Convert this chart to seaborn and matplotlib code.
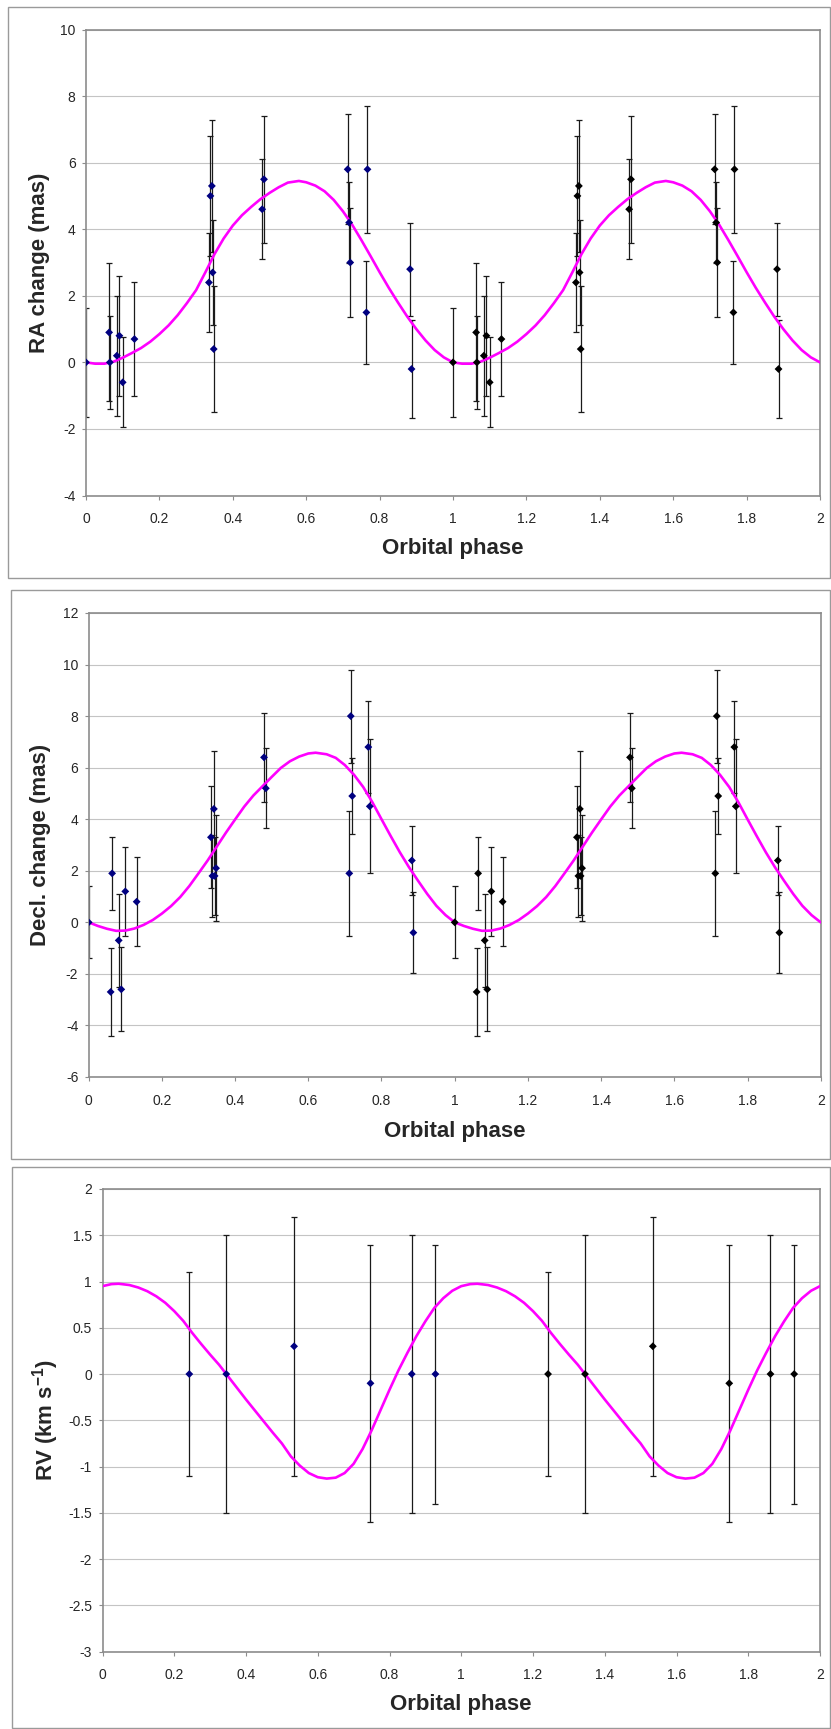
import matplotlib
matplotlib.use("Agg")
import matplotlib.pyplot as plt
import numpy as np
import pandas as pd
import seaborn as sns
from matplotlib.patches import Rectangle
from matplotlib.ticker import MultipleLocator, FuncFormatter

# ---------------- data ----------------
# RA change (mas) vs orbital phase (one cycle; chart repeats it at phase+1)
ra_phase = [0.000, 0.063, 0.065, 0.084, 0.091, 0.100, 0.132, 0.335, 0.339, 0.343,
            0.345, 0.348, 0.480, 0.485, 0.713, 0.717, 0.720, 0.764, 0.767, 0.883, 0.887]
ra_value = [0.0, 0.9, 0.0, 0.2, 0.8, -0.6, 0.7, 2.4, 5.0, 5.3,
            2.7, 0.4, 4.6, 5.5, 5.8, 4.2, 3.0, 1.5, 5.8, 2.8, -0.2]
ra_err = [1.64, 2.07, 1.40, 1.80, 1.80, 1.35, 1.72, 1.50, 1.80, 1.98,
          1.57, 1.88, 1.50, 1.90, 1.65, 1.22, 1.63, 1.55, 1.90, 1.40, 1.48]

# Decl. change (mas)
dec_phase = [0.000, 0.060, 0.064, 0.082, 0.089, 0.100, 0.131, 0.334, 0.338, 0.342,
             0.344, 0.348, 0.479, 0.484, 0.712, 0.716, 0.720, 0.764, 0.768, 0.883, 0.887]
dec_value = [0.0, -2.7, 1.9, -0.7, -2.6, 1.2, 0.8, 3.3, 1.8, 4.4,
             1.8, 2.1, 6.4, 5.2, 1.9, 8.0, 4.9, 6.8, 4.5, 2.4, -0.4]
dec_err = [1.40, 1.72, 1.42, 1.80, 1.63, 1.72, 1.72, 1.97, 1.60, 2.25,
           1.50, 2.05, 1.72, 1.55, 2.42, 1.80, 1.48, 1.80, 2.60, 1.35, 1.57]

# RV (km/s)
rv_phase = [0.242, 0.345, 0.534, 0.747, 0.862, 0.928]
rv_value = [0.0, 0.0, 0.3, -0.1, 0.0, 0.0]
rv_err = [1.1, 1.5, 1.4, 1.5, 1.5, 1.4]

# model curves (one cycle)
ra_curve_phase = [0.0, 0.025, 0.05, 0.075, 0.1, 0.125, 0.15, 0.175, 0.2, 0.225, 0.25,
                  0.275, 0.3, 0.325, 0.35, 0.375, 0.4, 0.425, 0.45, 0.475, 0.5, 0.525,
                  0.55, 0.58, 0.6, 0.625, 0.65, 0.675, 0.7, 0.725, 0.75, 0.775, 0.8,
                  0.825, 0.85, 0.875, 0.9, 0.925, 0.95, 0.975, 1.0]
ra_curve = [0.0, -0.04, -0.04, 0.02, 0.14, 0.28, 0.43, 0.62, 0.85, 1.11, 1.42,
            1.78, 2.17, 2.70, 3.25, 3.72, 4.11, 4.42, 4.67, 4.90, 5.09, 5.26,
            5.40, 5.45, 5.41, 5.31, 5.14, 4.88, 4.54, 4.14, 3.68, 3.20, 2.71,
            2.24, 1.80, 1.38, 1.00, 0.66, 0.37, 0.15, 0.0]

dec_curve_phase = [0.0, 0.025, 0.05, 0.075, 0.1, 0.125, 0.15, 0.175, 0.2, 0.225, 0.25,
                   0.275, 0.3, 0.325, 0.35, 0.375, 0.4, 0.425, 0.45, 0.475, 0.5, 0.525,
                   0.55, 0.575, 0.6, 0.62, 0.65, 0.675, 0.7, 0.725, 0.75, 0.775, 0.8,
                   0.825, 0.85, 0.875, 0.9, 0.925, 0.95, 0.975, 1.0]
dec_curve = [0.0, -0.14, -0.25, -0.33, -0.32, -0.24, -0.10, 0.09, 0.34, 0.63, 0.98,
             1.41, 1.90, 2.40, 2.94, 3.48, 3.99, 4.49, 4.92, 5.28, 5.64, 5.99,
             6.25, 6.43, 6.55, 6.58, 6.52, 6.38, 6.10, 5.72, 5.25, 4.66, 4.00,
             3.35, 2.72, 2.14, 1.61, 1.10, 0.64, 0.28, 0.0]

rv_curve_phase = [0.0, 0.025, 0.045, 0.075, 0.1, 0.125, 0.15, 0.175, 0.2, 0.225, 0.25,
                  0.275, 0.3, 0.325, 0.35, 0.375, 0.4, 0.425, 0.45, 0.475, 0.5, 0.525,
                  0.55, 0.575, 0.6, 0.625, 0.65, 0.675, 0.7, 0.725, 0.75, 0.775, 0.8,
                  0.825, 0.85, 0.875, 0.9, 0.925, 0.95, 0.975, 1.0]
rv_curve = [0.95, 0.972, 0.976, 0.962, 0.935, 0.895, 0.84, 0.77, 0.68, 0.575, 0.445,
            0.325, 0.21, 0.10, -0.025, -0.15, -0.275, -0.395, -0.515, -0.635, -0.75, -0.89,
            -0.99, -1.07, -1.115, -1.13, -1.12, -1.07, -0.97, -0.81, -0.61, -0.39, -0.17,
            0.04, 0.23, 0.41, 0.57, 0.715, 0.82, 0.90, 0.95]

x_ticks = [0, 0.2, 0.4, 0.6, 0.8, 1, 1.2, 1.4, 1.6, 1.8, 2]

# ---------------- style ----------------
sns.set_style("white")
plt.rcParams["font.family"] = ["Liberation Sans", "DejaVu Sans"]
plt.rcParams["axes.unicode_minus"] = False
plt.rcParams["mathtext.fontset"] = "custom"
plt.rcParams["mathtext.rm"] = "Liberation Sans"
plt.rcParams["mathtext.bf"] = "Liberation Sans:bold"

W, H = 831, 1729
fig = plt.figure(figsize=(W / 100, H / 100), dpi=100)


def frac(l, t, r, b):
    return [l / W, 1 - b / H, (r - l) / W, (b - t) / H]


# outer chart frames
frames = [(8, 7.5, 830, 578), (10.5, 590, 830, 1158.5), (11.7, 1166.5, 830, 1728)]
for (l, t, r, b) in frames:
    fig.patches.append(Rectangle((l / W, 1 - b / H), (r - l) / W, (b - t) / H,
                                 transform=fig.transFigure, fill=False,
                                 edgecolor="#9a9a9a", linewidth=1.0))

panels = [
    dict(rect=(86, 29.5, 820, 495.5), phase=ra_phase, value=ra_value, err=ra_err,
         cph=ra_curve_phase, cval=ra_curve, ylim=(-4, 10), ystep=2,
         ylabel="RA change (mas)", ylx=-0.064, xly=-0.1127),
    dict(rect=(88.7, 613, 820.7, 1077), phase=dec_phase, value=dec_value, err=dec_err,
         cph=dec_curve_phase, cval=dec_curve, ylim=(-6, 12), ystep=2,
         ylabel="Decl. change (mas)", ylx=-0.066, xly=-0.1164),
    dict(rect=(102.5, 1189, 820, 1651.6), phase=rv_phase, value=rv_value, err=rv_err,
         cph=rv_curve_phase, cval=rv_curve, ylim=(-3, 2), ystep=0.5,
         ylabel=r"RV (km s$^{\mathbf{-1}}$)", ylx=-0.079, xly=-0.1133),
]

fmt = FuncFormatter(lambda v, p: f"{round(v, 3):g}" if abs(v) > 1e-9 else "0")

for p in panels:
    ax = fig.add_axes(frac(*p["rect"]))
    n = len(p["phase"])
    pts = pd.DataFrame({
        "phase": list(p["phase"]) + [x + 1 for x in p["phase"]],
        "value": list(p["value"]) * 2,
        "err": list(p["err"]) * 2,
        "cycle": ["first"] * n + ["second"] * n,
    })
    curve = pd.DataFrame({
        "phase": list(p["cph"]) + [x + 1 for x in p["cph"][1:]],
        "value": list(p["cval"]) + list(p["cval"][1:]),
    })

    ax.errorbar(pts["phase"], pts["value"], yerr=pts["err"], fmt="none",
                ecolor="#1a1a1a", elinewidth=0.9, capsize=2.3, capthick=0.9, zorder=2)
    sns.lineplot(data=curve, x="phase", y="value", sort=False, estimator=None,
                 color="#ff00ff", linewidth=1.9, ax=ax, zorder=3)
    sns.scatterplot(data=pts, x="phase", y="value", hue="cycle",
                    palette={"first": "#000080", "second": "#000000"},
                    marker="D", s=16, linewidth=0, legend=False, ax=ax, zorder=4)

    ax.set_xlim(0, 2)
    ax.set_ylim(*p["ylim"])
    ax.set_xticks(x_ticks)
    ax.yaxis.set_major_locator(MultipleLocator(p["ystep"]))
    ax.xaxis.set_major_formatter(fmt)
    ax.yaxis.set_major_formatter(fmt)
    ax.grid(axis="y", color="#c4c4c4", linewidth=0.8)
    ax.grid(axis="x", visible=False)
    ax.set_axisbelow(True)
    for s in ax.spines.values():
        s.set_color("#8c8c8c")
        s.set_linewidth(1.2)
    ax.tick_params(axis="x", direction="out", length=3, width=0.8, color="#8c8c8c",
                   labelsize=10, pad=9, bottom=True)
    ax.tick_params(axis="y", direction="out", length=3, width=0.8, color="#8c8c8c",
                   labelsize=10, pad=4.5, left=True)

    ax.set_xlabel("Orbital phase", fontsize=16, fontweight="bold")
    ax.xaxis.label.set_va("center")
    ax.xaxis.set_label_coords(0.5, p["xly"])
    ax.set_ylabel(p["ylabel"], fontsize=16, fontweight="bold")
    ax.yaxis.label.set_va("center")
    ax.yaxis.set_label_coords(p["ylx"], 0.5)

fig.savefig("out.png", dpi=100)
